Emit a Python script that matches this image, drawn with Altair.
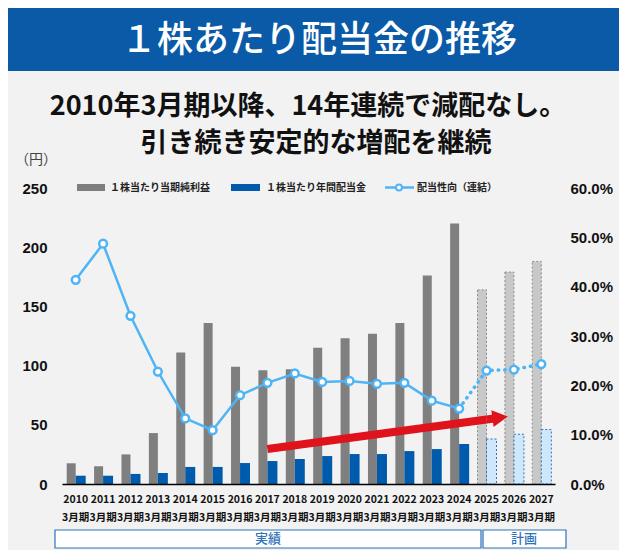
import altair as alt
import pandas as pd

# ---------------- data ----------------
years = ["2010", "2011", "2012", "2013", "2014", "2015", "2016", "2017", "2018",
         "2019", "2020", "2021", "2022", "2023", "2024", "2025", "2026", "2027"]
eps = [17.5, 15, 25, 43, 111, 136, 99, 96, 97, 115, 123, 127, 136, 176, 220, 164, 179, 188]
dps = [7, 7, 8.5, 9.3, 14.4, 14.4, 17.7, 19.4, 21.1, 23.6, 25.3, 25.3, 27.8, 29.5, 33.8, 38, 42, 46]
payout_pct = [41.4, 48.7, 34.1, 22.8, 13.3, 10.9, 18.0, 20.5, 22.4, 20.7, 20.9, 20.3,
              20.5, 16.9, 15.3, 23.0, 23.2, 24.3]
n_actual = 15  # 2010-2024 actual, 2025-2027 plan

arrow_years = ["2017", "2025"]
arrow_values = [29.5, 54.5]

left_ticks = [0, 50, 100, 150, 200, 250]
right_ticks = [0, 0.1, 0.2, 0.3, 0.4, 0.5, 0.6]

title_text = "１株あたり配当金の推移"
sub1 = "2010年3月期以降、14年連続で減配なし。"
sub2 = "引き続き安定的な増配を継続"
unit_text = "（円）"
leg_eps = "１株当たり当期純利益"
leg_dps = "１株当たり年間配当金"
leg_pay = "配当性向（連結）"
box_actual = "実績"
box_plan = "計画"
period_suffix = "3月期"

# ---------------- styles ----------------
JP = "Noto Sans CJK JP"
NUM = "Liberation Sans"
GRAY = "#7f7f7f"
BLUE = "#005bac"
LBLUE = "#4fb4f5"
RED = "#e0121b"
BG = "#f2f2f2"
BOXBLUE = "#2e72b8"

df = pd.DataFrame({
    "year": years,
    "eps": eps,
    "dps": dps,
    "payout": [p / 100 for p in payout_pct],
})
act = df.iloc[:n_actual]
plan = df.iloc[n_actual:]
line_solid = df.iloc[:n_actual]
line_dot = df.iloc[n_actual - 1:]
arrow_df = pd.DataFrame({"year": arrow_years, "v": arrow_values})
head_df = arrow_df.iloc[[1]]
one = pd.DataFrame({"k": [0]})

xscale = alt.Scale(domain=years, paddingInner=0, paddingOuter=0)
xaxis = alt.Axis(title=None, labelExpr=f"[datum.label, '{period_suffix}']", labelAngle=0,
                 labelFont=JP, labelFontSize=10.5, labelFontWeight="bold", labelColor="#111",
                 labelPadding=10, labelLineHeight=18, labelBaseline="top", ticks=False,
                 domainColor="#000", domainWidth=1.5, labelOverlap=False, grid=False, zindex=1)
X = alt.X("year:N", scale=xscale, axis=xaxis)

lscale = alt.Scale(domain=[0, 250], nice=False)
laxis = alt.Axis(title=None, values=left_ticks, orient="left", domain=False, ticks=False,
                 grid=False, labelPadding=15, labelFont=NUM, labelFontSize=15,
                 labelFontWeight="bold", labelColor="#111", zindex=1, format="d")

rscale = alt.Scale(domain=[0, 0.6], nice=False)
raxis = alt.Axis(title=None, values=right_ticks, orient="right", domain=False, ticks=False,
                 grid=False, labelPadding=15, labelFont=NUM, labelFontSize=15,
                 labelFontWeight="bold", labelColor="#111", zindex=1, format=".1%")


def deco_rect(x, x2, y, y2, **kw):
    return alt.Chart(one).mark_rect(**kw).encode(
        x=alt.value(x), x2=alt.value(x2), y=alt.value(y), y2=alt.value(y2))


def deco_text(txt, x, y, **kw):
    return alt.Chart(one).mark_text(text=txt, baseline="middle", **kw).encode(
        x=alt.value(x), y=alt.value(y))


decos = [
    deco_rect(-54, 557, -180, 362, color=BG),
    deco_rect(-54, 557, -180, -117, color="#0a5aa8"),
    deco_text(title_text, 257, -147, font=JP, fontSize=36, fontWeight=500, color="white", align="center"),
    deco_text(sub1, 246, -81, font=JP, fontSize=27, fontWeight="bold", color="#111", align="center"),
    deco_text(sub2, 254, -44, font=JP, fontSize=27, fontWeight="bold", color="#111", align="center"),
    deco_text(unit_text, -47, -28, font=JP, fontSize=14, color="#444", align="left"),
    # legend
    deco_rect(15, 43, -4, 3, color=GRAY),
    deco_text(leg_eps, 48, -0.5, font=JP, fontSize=10, fontWeight="bold", color="#222", align="left"),
    deco_rect(169, 198, -4, 3, color=BLUE),
    deco_text(leg_dps, 204, -0.5, font=JP, fontSize=10, fontWeight="bold", color="#222", align="left"),
    alt.Chart(one).mark_rule(color=LBLUE, strokeWidth=2.5).encode(
        x=alt.value(323), x2=alt.value(352), y=alt.value(-0.5)),
    alt.Chart(one).mark_point(filled=True, fill="white", stroke=LBLUE, strokeWidth=2, size=36, opacity=1).encode(
        x=alt.value(337), y=alt.value(-0.5)),
    deco_text(leg_pay, 355, -0.5, font=JP, fontSize=10, fontWeight="bold", color="#222", align="left"),
    # phase boxes
    deco_rect(-7, 419, 342, 360, fill="white", stroke=BOXBLUE, strokeWidth=1.2),
    deco_rect(421, 504, 342, 360, fill="white", stroke=BOXBLUE, strokeWidth=1.2),
    deco_text(box_actual, 206, 351, font=JP, fontSize=13, fontWeight=500, color=BOXBLUE, align="center"),
    deco_text(box_plan, 462, 351, font=JP, fontSize=13, fontWeight=500, color=BOXBLUE, align="center"),
]

bars_eps = alt.Chart(act).mark_bar(width=9, xOffset=-4.5, color=GRAY).encode(
    x=X, y=alt.Y("eps:Q", scale=lscale, axis=laxis))
bars_dps = alt.Chart(act).mark_bar(width=10, xOffset=5, color=BLUE).encode(
    x=X, y=alt.Y("dps:Q", scale=lscale, axis=laxis))
plan_eps = alt.Chart(plan).mark_bar(width=9, xOffset=-4.5, fill="#c8c8c8", stroke="#8a8a8a",
                                    strokeDash=[2, 2], strokeWidth=1).encode(
    x=X, y=alt.Y("eps:Q", scale=lscale, axis=laxis))
plan_dps = alt.Chart(plan).mark_bar(width=10, xOffset=5, fill="#cfe7fb", stroke=BOXBLUE,
                                    strokeDash=[2, 2], strokeWidth=1).encode(
    x=X, y=alt.Y("dps:Q", scale=lscale, axis=laxis))

arrow_shaft = alt.Chart(arrow_df).mark_line(color=RED, strokeWidth=8, strokeCap="butt").encode(
    x=X, y=alt.Y("v:Q", scale=lscale, axis=laxis))
arrow_head = alt.Chart(head_df).mark_point(
    shape="M0,-0.4 L0.6,-0.4 L0.6,-0.85 L2.15,0 L0.6,0.85 L0.6,0.4 L0,0.4 Z",
    size=400, angle=352.3, filled=True, color=RED, strokeWidth=0, opacity=1).encode(
    x=X, y=alt.Y("v:Q", scale=lscale, axis=laxis))

left = alt.layer(*decos, bars_eps, bars_dps, plan_eps, plan_dps, arrow_shaft, arrow_head)

Yr = alt.Y("payout:Q", scale=rscale, axis=raxis)
l_solid = alt.Chart(line_solid).mark_line(color=LBLUE, strokeWidth=2.5).encode(x=X, y=Yr)
l_dot = alt.Chart(line_dot).mark_line(color=LBLUE, strokeWidth=3.5, strokeDash=[0.5, 6],
                                      strokeCap="round").encode(x=X, y=Yr)
pts = alt.Chart(df).mark_point(filled=True, fill="white", stroke=LBLUE, strokeWidth=2.5,
                               size=60, opacity=1).encode(x=X, y=Yr)
right = alt.layer(l_solid, l_dot, pts)

chart = alt.layer(left, right).resolve_scale(y="independent").properties(
    width=493, height=296, padding=0, background=BG
).configure_view(strokeWidth=0)

chart.save("out.html", embed_options={"renderer": "svg", "actions": False})
